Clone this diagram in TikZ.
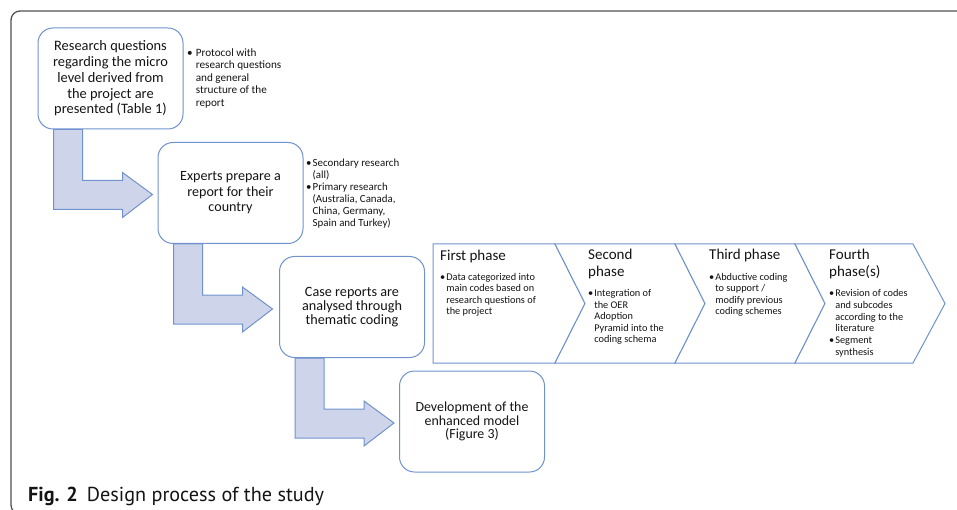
\documentclass[tikz,border=0pt]{standalone}
\usepackage{fontspec}
\setmainfont{Carlito}
\newfontfamily\capfont{PT Sans}
\usetikzlibrary{calc}
\definecolor{boxblue}{RGB}{112,146,206}
\definecolor{arrowfill}{RGB}{206,213,234}
\definecolor{framegray}{RGB}{80,80,80}
\definecolor{ink}{RGB}{20,20,20}
\pgfdeclarelayer{background}
\pgfsetlayers{background,main}

\begin{document}
\begin{tikzpicture}[x=1pt,y=-1pt,
  stepbox/.style={draw=boxblue, line width=1pt, fill=white, rounded corners=15pt,
    align=center, inner sep=0pt, text=ink, minimum width=145pt, minimum height=101pt},
  bent/.style={draw=boxblue, fill=arrowfill, line width=1pt, line join=miter},
  phasebox/.style={draw=boxblue, fill=white, line width=1pt, line join=miter},
  note/.style={anchor=base west, inner sep=0pt, text=ink},
  head/.style={anchor=base west, inner sep=0pt, text=ink, font=\fontsize{15}{17}\selectfont}]

\useasboundingbox (0,0) rectangle (957,510);

% outer frame, running past the right and bottom edges
\begin{scope}
  \clip (0,0) rectangle (957,510);
  \draw[framegray, line width=1.3pt, rounded corners=9pt] (11,11) rectangle (990,514);
\end{scope}

% process steps
\node[stepbox, font=\fontsize{14.4}{15.7}\selectfont] (b1) at (110.5,78.5)
  {Research questions\\regarding the micro\\level derived from\\the project are\\presented (Table 1)};
\node[stepbox, font=\fontsize{14.1}{15.5}\selectfont] (b2) at (230.5,193)
  {Experts prepare a\\report for their\\country};
\node[stepbox, font=\fontsize{14.2}{14.2}\selectfont] (b3) at (352,307)
  {Case reports are\\analysed through\\thematic coding};
\node[stepbox, font=\fontsize{13.9}{13.6}\selectfont] (b4) at (472,421.5)
  {Development of the\\enhanced model\\(Figure 3)};

% bent arrows from each step to the next
\begin{pgfonlayer}{background}
\foreach \b in {b1,b2,b3}
  \draw[bent] ($(\b.south west)+(16,0)$) -- ++(29,0) -- ++(0,51) -- ++(40,0)
    -- ++(0,-8) -- ++(30,22) -- ++(-30,23) -- ++(0,-8) -- ++(-69,0) -- cycle;
\end{pgfonlayer}

% side notes
\node[note, font=\fontsize{11.2}{12.4}\selectfont] (n1) at (187,56.5)
  {\begin{tabular}[t]{@{}l@{\hspace{3pt}}l@{}}
   • & Protocol with\\ & research questions\\ & and general\\ & structure of the\\ & report
   \end{tabular}};
\node[note, font=\fontsize{10.9}{12}\selectfont] (n2) at (306,166.5)
  {\begin{tabular}[t]{@{}l@{\hspace{1pt}}l@{}}
   • & Secondary research\\ & (all)\\
   • & Primary research\\ & (Australia, Canada,\\ & China, Germany,\\ & Spain and Turkey)
   \end{tabular}};

% coding phases
\draw[phasebox] (433,244) -- (555,244) -- (585,303.5) -- (555,363) -- (433,363) -- cycle;
\draw[phasebox] (555,244) -- (675,244) -- (705,303.5) -- (675,363) -- (555,363) -- (585,303.5) -- cycle;
\draw[phasebox] (675,244) -- (795,244) -- (825,303.5) -- (795,363) -- (675,363) -- (705,303.5) -- cycle;
\draw[phasebox] (795,244) -- (913,244) -- (945,303.5) -- (913,363) -- (795,363) -- (825,303.5) -- cycle;

\node[head] (h1) at (440,261) {First phase};
\node[head] (h2) at (588,260)
  {\begin{tabular}[t]{@{}l@{}}Second\\phase\end{tabular}};
\node[head] (h3) at (709,260) {Third phase};
\node[head] (h4) at (829,260)
  {\begin{tabular}[t]{@{}l@{}}Fourth\\phase(s)\end{tabular}};

\node[note, font=\fontsize{10.3}{11.4}\selectfont] (p1) at (440,280.5)
  {\begin{tabular}[t]{@{}l@{\hspace{1pt}}l@{}}
   • & Data categorized into\\ & main codes based on\\ & research questions of\\ & the project
   \end{tabular}};
\node[note, font=\fontsize{10.3}{11.5}\selectfont] (p2) at (588,296.5)
  {\begin{tabular}[t]{@{}l@{\hspace{1pt}}l@{}}
   • & Integration of\\ & the OER\\ & Adoption\\ & Pyramid into the\\ & coding schema
   \end{tabular}};
\node[note, font=\fontsize{10.3}{11.4}\selectfont] (p3) at (709,280.5)
  {\begin{tabular}[t]{@{}l@{\hspace{1pt}}l@{}}
   • & Abductive coding\\ & to support /\\ & modify previous\\ & coding schemes
   \end{tabular}};
\node[note, font=\fontsize{10.3}{11.8}\selectfont] (p4) at (829,296.5)
  {\begin{tabular}[t]{@{}l@{\hspace{1pt}}l@{}}
   • & Revision of codes\\ & and subcodes\\ & according to the\\ & literature\\
   • & Segment\\ & synthesis
   \end{tabular}};

% caption
\node[anchor=base west, inner sep=0pt, text=ink] (cap) at (28,501)
  {\capfont\fontsize{20.2}{24}\selectfont\textbf{Fig. 2}\hspace{9pt}Design process of the study};
\end{tikzpicture}
\end{document}
